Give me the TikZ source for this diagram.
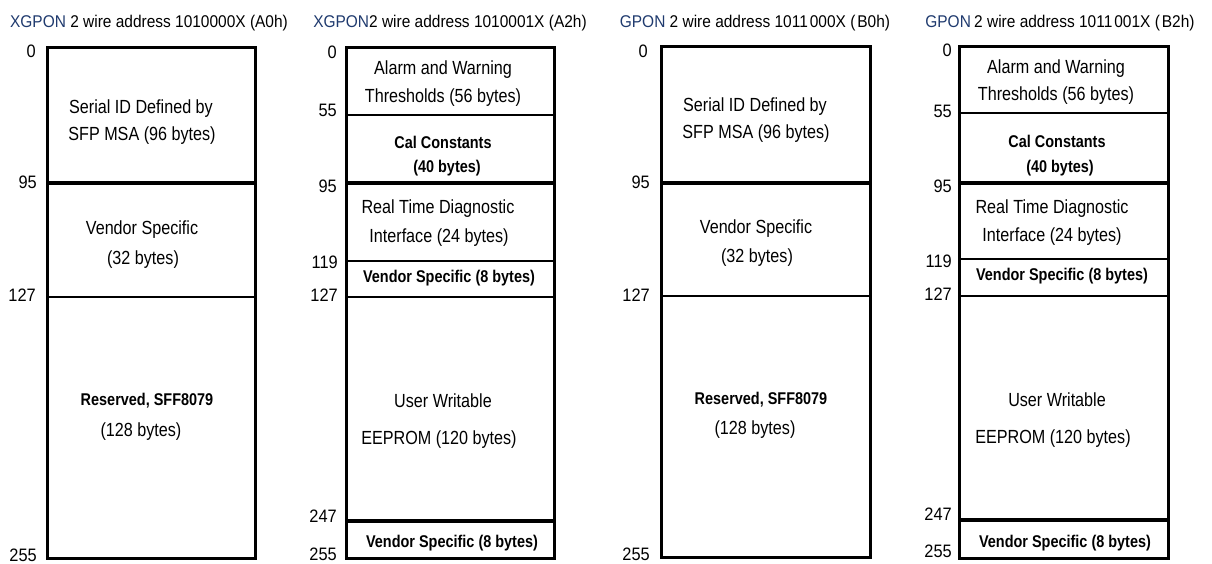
\documentclass[tikz,border=0pt]{standalone}
\usepackage{fontspec}
\setmainfont{Liberation Sans}
\newfontfamily\bodyfont{Liberation Sans}[FakeStretch=0.85]
\newfontfamily\titlefont{Liberation Sans}[FakeStretch=0.91]
\definecolor{gponblue}{HTML}{1F3A6E}
\tikzset{
  body/.style={font=\bodyfont\fontsize{19}{23}\selectfont, anchor=base, inner sep=0pt},
  bodyb/.style={font=\bodyfont\bfseries\fontsize{17}{20}\selectfont, anchor=base, inner sep=0pt},
  ttl/.style={font=\titlefont\fontsize{17}{20}\selectfont, anchor=base, inner sep=0pt},
  num/.style={font=\titlefont\fontsize{18}{20}\selectfont, anchor=base east, inner sep=0pt},
  frame/.style={line width=3pt},
  divthick/.style={line width=3.5pt},
  divmed/.style={line width=2.4pt},
  divthin/.style={line width=1.3pt}
}
\begin{document}
\begin{tikzpicture}[x=1pt,y=-1pt]
\useasboundingbox (0,0) rectangle (1212,563);

% ---------- titles ----------
\node[ttl] (t1) at (149,27) {\textcolor{gponblue}{XGPON} 2 wire address 1010000X (A0h)};
\node[ttl] (t2) at (450,27) {\textcolor{gponblue}{XGPON}2 wire address 1010001X (A2h)};
\node[ttl] (t3) at (755,27) {\textcolor{gponblue}{GPON} 2 wire address 1011\hspace{2pt}000X (\hspace{2pt}B0h)};
\node[ttl] (t4) at (1060,27) {\textcolor{gponblue}{GPON}\hspace{-1pt} 2 wire address 1011\hspace{2pt}001X (\hspace{2pt}B2h)};

% ---------- box 1 (A0h) ----------
\coordinate (a1tl) at (47,47);
\coordinate (a1br) at (255,558);
\draw[divthick] (47,183) -- (255,183);
\draw[divmed] (47,297) -- (255,297);
\draw[frame] (a1tl) rectangle (a1br);
\node[body] (a1s1) at (141,113) {Serial ID Defined by};
\node[body] (a1s2) at (142,140) {SFP MSA (96 bytes)};
\node[body] (a1v1) at (142,234) {Vendor Specific};
\node[body] (a1v2) at (143,264) {(32 bytes)};
\node[bodyb] (a1r1) at (147,405) {Reserved, SFF8079};
\node[body] (a1r2) at (141,436) {(128 bytes)};
\node[num] (a1n0) at (36,57) {0};
\node[num] (a1n95) at (37,188) {95};
\node[num] (a1n127) at (36,301) {127};
\node[num] (a1n255) at (37,561) {255};

% ---------- box 2 (A2h) ----------
\coordinate (a2tl) at (346,47);
\coordinate (a2br) at (554,558);
\draw[divthin] (346,115) -- (554,115);
\draw[divthick] (346,183) -- (554,183);
\draw[divmed] (346,261) -- (554,261);
\draw[divmed] (346,297) -- (554,297);
\draw[divthick] (346,521) -- (554,521);
\draw[frame] (a2tl) rectangle (a2br);
\node[body] (a2a1) at (443,74) {Alarm and Warning};
\node[body] (a2a2) at (443,102) {Thresholds (56 bytes)};
\node[bodyb] (a2c1) at (443,148) {Cal Constants};
\node[bodyb] (a2c2) at (447,172) {(40 bytes)};
\node[body] (a2d1) at (438,213) {Real Time Diagnostic};
\node[body] (a2d2) at (439,242) {Interface (24 bytes)};
\node[bodyb] (a2v1) at (449,282) {Vendor Specific (8 bytes)};
\node[body] (a2u1) at (443,407) {User Writable};
\node[body] (a2u2) at (439,444) {EEPROM (120 bytes)};
\node[bodyb] (a2v2) at (452,547) {Vendor Specific (8 bytes)};
\node[num] (a2n0) at (337,58) {0};
\node[num] (a2n55) at (337,116) {55};
\node[num] (a2n95) at (337,192) {95};
\node[num] (a2n119) at (338,268) {119};
\node[num] (a2n127) at (338,301) {127};
\node[num] (a2n247) at (337,522) {247};
\node[num] (a2n255) at (337,560) {255};

% ---------- box 3 (B0h) ----------
\coordinate (b0tl) at (661,46);
\coordinate (b0br) at (870,557);
\draw[divthick] (661,183) -- (870,183);
\draw[divmed] (661,296) -- (870,296);
\draw[frame] (b0tl) rectangle (b0br);
\node[body] (b0s1) at (755,111) {Serial ID Defined by};
\node[body] (b0s2) at (756,138) {SFP MSA (96 bytes)};
\node[body] (b0v1) at (756,233) {Vendor Specific};
\node[body] (b0v2) at (757,262) {(32 bytes)};
\node[bodyb] (b0r1) at (761,404) {Reserved, SFF8079};
\node[body] (b0r2) at (755,434) {(128 bytes)};
\node[num] (b0n0) at (648,57) {0};
\node[num] (b0n95) at (650,188) {95};
\node[num] (b0n127) at (650,301) {127};
\node[num] (b0n255) at (650,560) {255};

% ---------- box 4 (B2h) ----------
\coordinate (b2tl) at (959,46);
\coordinate (b2br) at (1168,558);
\draw[divthin] (959,113) -- (1168,113);
\draw[divthick] (959,183) -- (1168,183);
\draw[divmed] (959,259) -- (1168,259);
\draw[divmed] (959,296) -- (1168,296);
\draw[divthick] (959,520) -- (1168,520);
\draw[frame] (b2tl) rectangle (b2br);
\node[body] (b2a1) at (1056,73) {Alarm and Warning};
\node[body] (b2a2) at (1056,100) {Thresholds (56 bytes)};
\node[bodyb] (b2c1) at (1057,147) {Cal Constants};
\node[bodyb] (b2c2) at (1060,172) {(40 bytes)};
\node[body] (b2d1) at (1052,213) {Real Time Diagnostic};
\node[body] (b2d2) at (1052,241) {Interface (24 bytes)};
\node[bodyb] (b2v1) at (1062,280) {Vendor Specific (8 bytes)};
\node[body] (b2u1) at (1057,406) {User Writable};
\node[body] (b2u2) at (1053,443) {EEPROM (120 bytes)};
\node[bodyb] (b2v2) at (1065,547) {Vendor Specific (8 bytes)};
\node[num] (b2n0) at (952,56) {0};
\node[num] (b2n55) at (952,117) {55};
\node[num] (b2n95) at (952,192) {95};
\node[num] (b2n119) at (952,267) {119};
\node[num] (b2n127) at (952,300) {127};
\node[num] (b2n247) at (952,520) {247};
\node[num] (b2n255) at (952,557) {255};
\end{tikzpicture}
\end{document}
